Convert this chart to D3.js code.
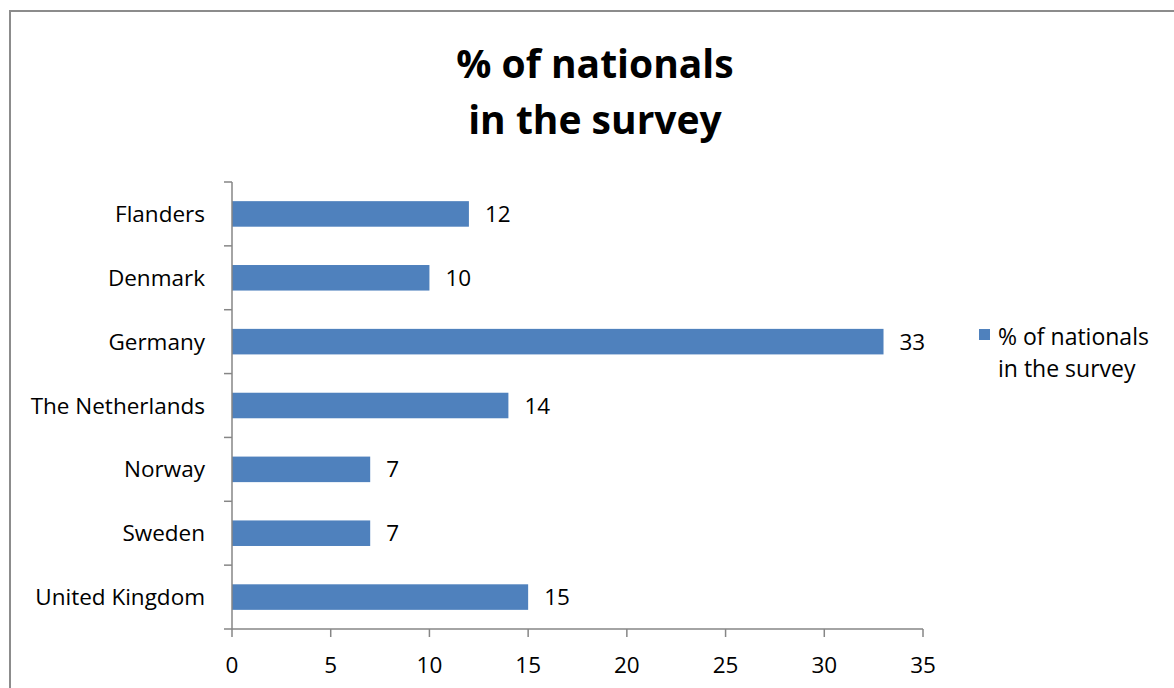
<!DOCTYPE html>
<html lang="en">
<head>
    <meta charset="UTF-8">
    <script src="https://d3js.org/d3.v7.min.js"></script>
    <style>
        body {margin: 0; background-color: #fff; overflow: hidden}
        svg {display: block; font-family: "Open Sans", "Liberation Sans", sans-serif;}
    </style>
</head>
<body>
<svg class="chart"></svg>
<script type="text/javascript">
    let countries = ['Flanders', 'Denmark', 'Germany', 'The Netherlands', 'Norway', 'Sweden', 'United Kingdom'];
    let shares = [12, 10, 33, 14, 7, 7, 15];
    let x_ticks = [0, 5, 10, 15, 20, 25, 30, 35];
    let title_lines = ['% of nationals', 'in the survey'];
    let legend_lines = ['% of nationals', 'in the survey'];

    let width = 1174, height = 688;
    let plot_left = 232, plot_right = 923, plot_top = 182, plot_bottom = 629;
    let bar_color = '#4f81bd';
    let axis_color = '#868686';
    let label_size = 22.5;

    var svg = d3.select('.chart').attr('width', width).attr('height', height);

    // outer frame
    svg.append('rect')
        .attr('x', 10).attr('y', 11)
        .attr('width', width + 10).attr('height', height + 10)
        .attr('fill', 'none').attr('stroke', '#8c8c8c').attr('stroke-width', 2);

    svg.selectAll('.title').data(title_lines).enter().append('text')
        .attr('class', 'title')
        .attr('x', 595)
        .attr('y', (d, i) => 78 + i * 56)
        .attr('text-anchor', 'middle')
        .attr('font-size', 39)
        .attr('font-weight', 'bold')
        .attr('fill', '#000')
        .text(d => d);

    var x_range = d3.scaleLinear().domain([0, 35]).range([plot_left, plot_right]);
    var y_range = d3.scaleBand().domain(countries).range([plot_top, plot_bottom]).paddingInner(0.6).paddingOuter(0.3);
    var y_grid = d3.scaleBand().domain(countries).range([plot_top, plot_bottom]);

    svg.selectAll('.bar').data(countries).enter().append('rect')
        .attr('class', 'bar')
        .attr('x', x_range(0))
        .attr('y', d => y_range(d))
        .attr('width', (d, i) => x_range(shares[i]) - x_range(0))
        .attr('height', y_range.bandwidth())
        .attr('fill', bar_color);

    svg.selectAll('.value').data(countries).enter().append('text')
        .attr('class', 'value')
        .attr('x', (d, i) => x_range(shares[i]) + 16)
        .attr('y', d => y_range(d) + y_range.bandwidth() / 2 + 8)
        .attr('font-size', label_size)
        .attr('fill', '#000')
        .text((d, i) => shares[i]);

    // y axis
    var y_axis = svg.append('g');
    y_axis.append('line')
        .attr('x1', plot_left).attr('x2', plot_left).attr('y1', plot_top).attr('y2', plot_bottom)
        .attr('stroke', axis_color).attr('stroke-width', 1.5);
    y_axis.selectAll('.ytick').data(countries.concat(['end'])).enter().append('line')
        .attr('x1', plot_left - 8).attr('x2', plot_left)
        .attr('y1', (d, i) => i < countries.length ? y_grid(d) : plot_bottom)
        .attr('y2', (d, i) => i < countries.length ? y_grid(d) : plot_bottom)
        .attr('stroke', axis_color).attr('stroke-width', 1.5);
    y_axis.selectAll('.ylabel').data(countries).enter().append('text')
        .attr('x', 205)
        .attr('y', d => y_grid(d) + y_grid.bandwidth() / 2 + 8)
        .attr('text-anchor', 'end')
        .attr('font-size', label_size)
        .attr('fill', '#000')
        .text(d => d);

    // x axis
    var x_axis = svg.append('g');
    x_axis.append('line')
        .attr('x1', plot_left).attr('x2', plot_right).attr('y1', plot_bottom).attr('y2', plot_bottom)
        .attr('stroke', axis_color).attr('stroke-width', 1.5);
    x_axis.selectAll('.xtick').data(x_ticks).enter().append('line')
        .attr('x1', d => x_range(d)).attr('x2', d => x_range(d))
        .attr('y1', plot_bottom).attr('y2', plot_bottom + 8)
        .attr('stroke', axis_color).attr('stroke-width', 1.5);
    x_axis.selectAll('.xlabel').data(x_ticks).enter().append('text')
        .attr('x', d => x_range(d))
        .attr('y', 673)
        .attr('text-anchor', 'middle')
        .attr('font-size', label_size)
        .attr('fill', '#000')
        .text(d => d);

    // legend
    svg.append('rect')
        .attr('x', 979).attr('y', 329).attr('width', 11).attr('height', 11)
        .attr('fill', bar_color);
    svg.selectAll('.legend').data(legend_lines).enter().append('text')
        .attr('x', 998)
        .attr('y', (d, i) => 345 + i * 32)
        .attr('font-size', 23)
        .attr('fill', '#000')
        .text(d => d);
</script>
</body>
</html>
